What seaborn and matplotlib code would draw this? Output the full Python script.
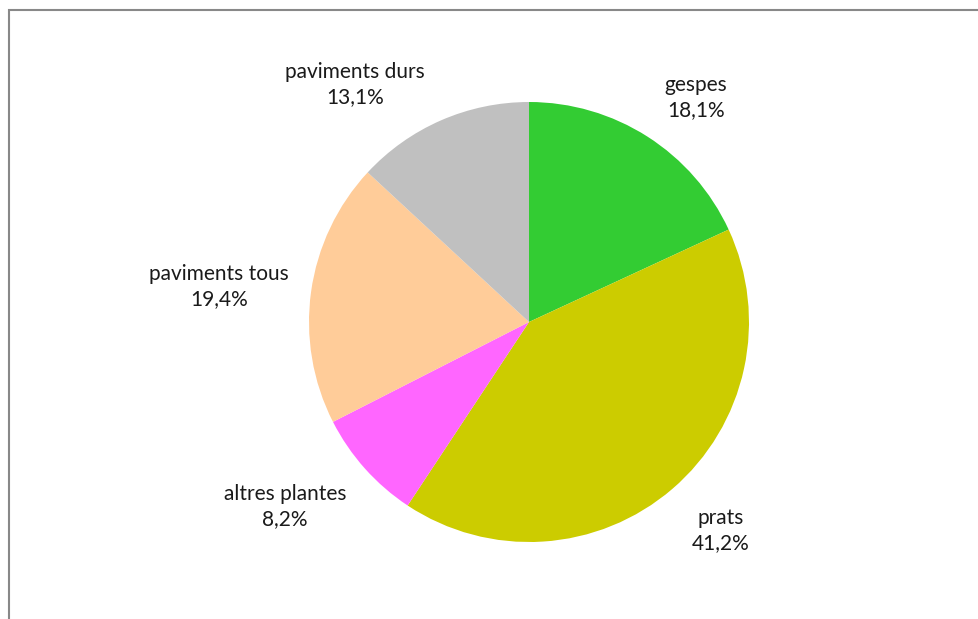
import matplotlib
matplotlib.use("Agg")
import matplotlib.pyplot as plt
import seaborn as sns
from matplotlib.patches import Rectangle

sns.set_theme(style="white")
plt.rcParams['font.family'] = ['Lato', 'DejaVu Sans']

# data
categories = ["gespes", "prats", "altres plantes", "paviments tous", "paviments durs"]
shares = [18.1, 41.2, 8.2, 19.4, 13.1]
pct_labels = ["18,1%", "41,2%", "8,2%", "19,4%", "13,1%"]
colors = ["#33CC33", "#CCCC00", "#FF66FF", "#FFCC99", "#C0C0C0"]

# label positions (in pie radius units), placed like the original
label_pos = [(0.76, 1.02), (0.87, -0.95), (-1.11, -0.84), (-1.41, 0.16), (-0.79, 1.08)]

fig = plt.figure(figsize=(9.79, 6.19), dpi=100)
fig.patch.set_facecolor("white")

# chart frame (only top/left visible in the crop)
fig.patches.append(Rectangle((9 / 979, -0.1), 1.2, 1 - 10 / 619 + 0.1,
                             transform=fig.transFigure, fill=False,
                             edgecolor="#888888", linewidth=1.5))

ax = fig.add_axes([309 / 979, 77 / 619, 440 / 979, 440 / 619])
ax.pie(shares, colors=colors, startangle=90, counterclock=False,
       wedgeprops=dict(linewidth=0))
ax.set_xlim(-1, 1)
ax.set_ylim(-1, 1)
ax.set_aspect("equal")
ax.axis("off")

for name, pct, (x, y) in zip(categories, pct_labels, label_pos):
    ax.text(x, y, f"{name}\n{pct}", ha="center", va="center", fontsize=15,
            linespacing=1.32, color="#1a1a1a", clip_on=False)

fig.savefig("out.png", dpi=100, facecolor="white")
